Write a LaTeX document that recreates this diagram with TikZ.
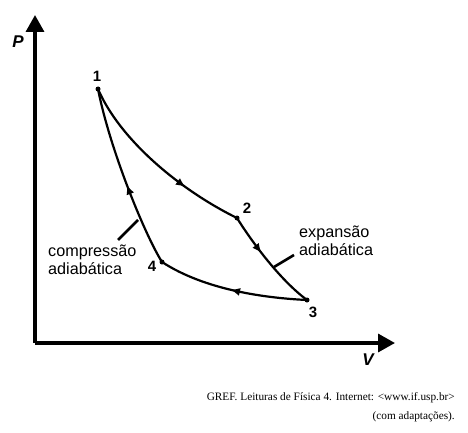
\documentclass[tikz,border=0pt]{standalone}
\usepackage{fontspec}
\setmainfont{Liberation Serif}
\setsansfont{Liberation Sans}
\usetikzlibrary{arrows.meta,decorations.markings}
\begin{document}
\begin{tikzpicture}[x=1pt,y=-1pt,
  axis/.style={line width=3.4pt,-{Triangle[length=17pt,width=18pt]}},
  curve/.style={line width=2.2pt,line cap=round,line join=round},
  midarrow/.style={postaction={decorate},decoration={markings,
     mark=at position #1 with {\arrow{Triangle[length=8pt,width=7pt]}}}},
  leader/.style={line width=2.6pt},
  ptlabel/.style={font=\sffamily\bfseries\fontsize{15}{17}\selectfont,inner sep=0pt},
  axlabel/.style={font=\sffamily\bfseries\itshape\fontsize{17}{19}\selectfont,inner sep=0pt},
  desc/.style={font=\sffamily\fontsize{16.2}{17.7}\selectfont,align=left,inner sep=0pt},
  cite/.style={font=\fontsize{11.3}{13}\selectfont,inner sep=0pt},
  vertex/.style={circle,fill=black,inner sep=0pt,minimum size=5pt}
]
\useasboundingbox (0,0) rectangle (468,433);
% axes
\coordinate (O) at (35,343);
\coordinate (Ptip) at (35,15);
\coordinate (Vtip) at (395,343);
\draw[axis] (O) -- (Ptip);
\draw[axis] (O) -- (Vtip);
\node[axlabel] (Plab) at (18,42) {P};
\node[axlabel] (Vlab) at (368,360) {V};
% vertices
\node[vertex] (p1) at (98,89) {};
\node[vertex] (p2) at (237,218) {};
\node[vertex] (p3) at (307,300) {};
\node[vertex] (p4) at (162,262) {};
\node[ptlabel] (l1) at (97,76) {1};
\node[ptlabel] (l2) at (247,208) {2};
\node[ptlabel] (l3) at (313,312) {3};
\node[ptlabel] (l4) at (152,266) {4};
% cycle
\draw[curve,midarrow=0.68] (p1.center) .. controls (120,140) and (180,190) .. (p2.center);
\draw[curve,midarrow=0.38] (p2.center) .. controls (252,242) and (280,280) .. (p3.center);
\draw[curve,midarrow=0.5] (p3.center) .. controls (265,298) and (205,290) .. (p4.center);
\draw[curve,midarrow=0.45] (p4.center) .. controls (145,235) and (110,150) .. (p1.center);
% leaders
\coordinate (c1) at (138,220);
\coordinate (c2) at (118,240);
\coordinate (e1) at (274,267);
\coordinate (e2) at (294,255);
\draw[leader] (c1) -- (c2);
\draw[leader] (e1) -- (e2);
\node[desc,anchor=west] (comp) at (48,259.5) {compressão\\adiabática};
\node[desc,anchor=west] (exp) at (299,240.5) {expansão\\adiabática};
% citation
\node[cite,anchor=east] (cit1) at (455,398) {GREF. Leituras de Física 4. Internet: <www.if.usp.br>};
\node[cite,anchor=east] (cit2) at (455,417) {(com adaptações).};
\end{tikzpicture}
\end{document}
